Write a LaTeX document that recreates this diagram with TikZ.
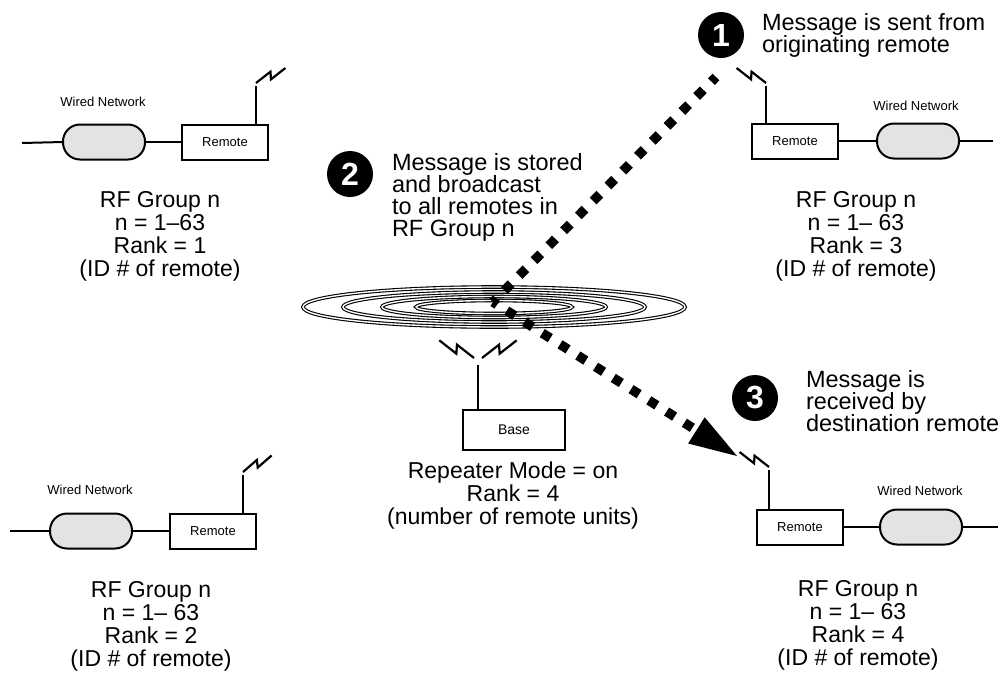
\documentclass[tikz,border=0pt]{standalone}
\usepackage{fontspec}
\setmainfont{Liberation Sans}
\usetikzlibrary{arrows.meta,calc}
\newcommand{\tightlines}{\lineskiplimit-10pt\relax}
\begin{document}
\begin{tikzpicture}[x=1pt,y=-1pt,
  every node/.style={inner sep=0pt, outer sep=0pt},
  wire/.style={line width=2pt},
  pill/.style={draw, line width=2pt, fill=black!11, rounded corners=17pt, minimum width=82pt, minimum height=35pt},
  remotebox/.style={draw, line width=2pt, fill=white, minimum width=86pt, minimum height=35pt, font=\fontsize{13}{15}\selectfont},
  smalllabel/.style={font=\fontsize{13}{15}\selectfont},
  grouplabel/.style={align=center, anchor=north, font=\fontsize{23}{23}\selectfont\tightlines},
  msg/.style={align=left, anchor=north west, font=\fontsize{23.5}{22}\selectfont\tightlines},
  numdot/.style={circle, fill=black, minimum size=46pt, text=white, font=\fontsize{32}{32}\selectfont\bfseries},
  antenna/.style={line width=2pt},
  ring/.style={draw=black, line width=1.1pt, double=white, double distance=1.4pt},
  dotline/.style={line width=9.5pt, dash pattern=on 9.5pt off 11.5pt},
  bolt/.pic={\draw[line width=2.2pt, line join=miter] (0,0) -- (18,-3.5) -- (15,3.5) -- (33,0);}
]
\useasboundingbox (0,0) rectangle (1005,686);

% ---------- top-left group
\coordinate (tlw) at (22,143);
\node[pill] (tlpill) at (104,142) {};
\node[remotebox] (tlbox) at (225,142) {Remote};
\draw[wire] (tlw) -- (tlpill.west);
\draw[wire] (tlpill.east) -- (tlbox.west);
\coordinate (tlant) at (256,86);
\draw[antenna] (tlbox.north -| tlant) -- (tlant);
\pic[rotate=27] at (256,83) {bolt};
\node[smalllabel] (tlwn) at (103,102) {Wired Network};
\node[grouplabel] (tllab) at (160,191) {RF Group n\\n = 1–63\\Rank = 1\\(ID \# of remote)};

% ---------- top-right group
\node[remotebox] (trbox) at (795,141) {Remote};
\node[pill] (trpill) at (918,141) {};
\coordinate (trw) at (993,141);
\draw[wire] (trbox.east) -- (trpill.west);
\draw[wire] (trpill.east) -- (trw);
\coordinate (trant) at (766,86);
\draw[antenna] (trbox.north -| trant) -- (trant);
\pic[rotate=153,yscale=-1] at (766,83) {bolt};
\node[smalllabel] (trwn) at (916,106) {Wired Network};
\node[grouplabel] (trlab) at (856,191) {RF Group n\\n = 1– 63\\Rank = 3\\(ID \# of remote)};

% ---------- bottom-left group
\coordinate (blw) at (10,531);
\node[pill] (blpill) at (91,531) {};
\node[remotebox] (blbox) at (213,531) {Remote};
\draw[wire] (blw) -- (blpill.west);
\draw[wire] (blpill.east) -- (blbox.west);
\coordinate (blant) at (243,475);
\draw[antenna] (blbox.north -| blant) -- (blant);
\pic[rotate=30] at (243,472) {bolt};
\node[smalllabel] (blwn) at (90,490) {Wired Network};
\node[grouplabel] (bllab) at (151,581) {RF Group n\\n = 1– 63\\Rank = 2\\(ID \# of remote)};

% ---------- bottom-right group
\node[remotebox] (brbox) at (800,527) {Remote};
\node[pill] (brpill) at (921,527) {};
\coordinate (brw) at (998,527);
\draw[wire] (brbox.east) -- (brpill.west);
\draw[wire] (brpill.east) -- (brw);
\coordinate (brant) at (769,470);
\draw[antenna] (brbox.north -| brant) -- (brant);
\pic[rotate=153,yscale=-1] at (769,467) {bolt};
\node[smalllabel] (brwn) at (920,491) {Wired Network};
\node[grouplabel] (brlab) at (858,580) {RF Group n\\n = 1– 63\\Rank = 4\\(ID \# of remote)};

% ---------- base / repeater
\draw[ring] (494,307) ellipse [x radius=191pt, y radius=20pt];
\draw[ring] (494,307) ellipse [x radius=151pt, y radius=15pt];
\draw[ring] (494,307) ellipse [x radius=112pt, y radius=10.5pt];
\draw[ring] (494,307) ellipse [x radius=78pt, y radius=6.5pt];
\node[draw, line width=2pt, minimum width=102pt, minimum height=40pt, font=\fontsize{14}{16}\selectfont] (base) at (514,430) {Base};
\coordinate (bant) at (478,365);
\draw[antenna] (base.north -| bant) -- (bant);
\pic[rotate=153,yscale=-1,scale=1.18] at (474,358) {bolt};
\pic[rotate=27,scale=1.18] at (482,358) {bolt};
\node[grouplabel] (baselab) at (513,462) {Repeater Mode = on\\Rank = 4\\(number of remote units)};

% ---------- message path
\coordinate (hub) at (493,302);
\coordinate (src) at (716,77);
\coordinate (tip) at (737,456);
\draw[dotline, dash phase=4.75pt] (hub) -- (src);
\draw[dotline, dash phase=4.75pt, -{Triangle[length=48pt,width=31pt,line width=0pt]}] (hub) -- (tip);

% ---------- numbered steps
\node[numdot] (n1) at (721,35) {1};
\node[numdot] (n2) at (350,174) {2};
\node[numdot] (n3) at (755,398) {3};
\node[msg] (m1) at (762,13) {Message is sent from\\originating remote};
\node[msg] (m2) at (392,153) {Message is stored\\and broadcast\\to all remotes in\\RF Group n};
\node[msg] (m3) at (806,370) {Message is\\received by\\destination remote};
\end{tikzpicture}
\end{document}
